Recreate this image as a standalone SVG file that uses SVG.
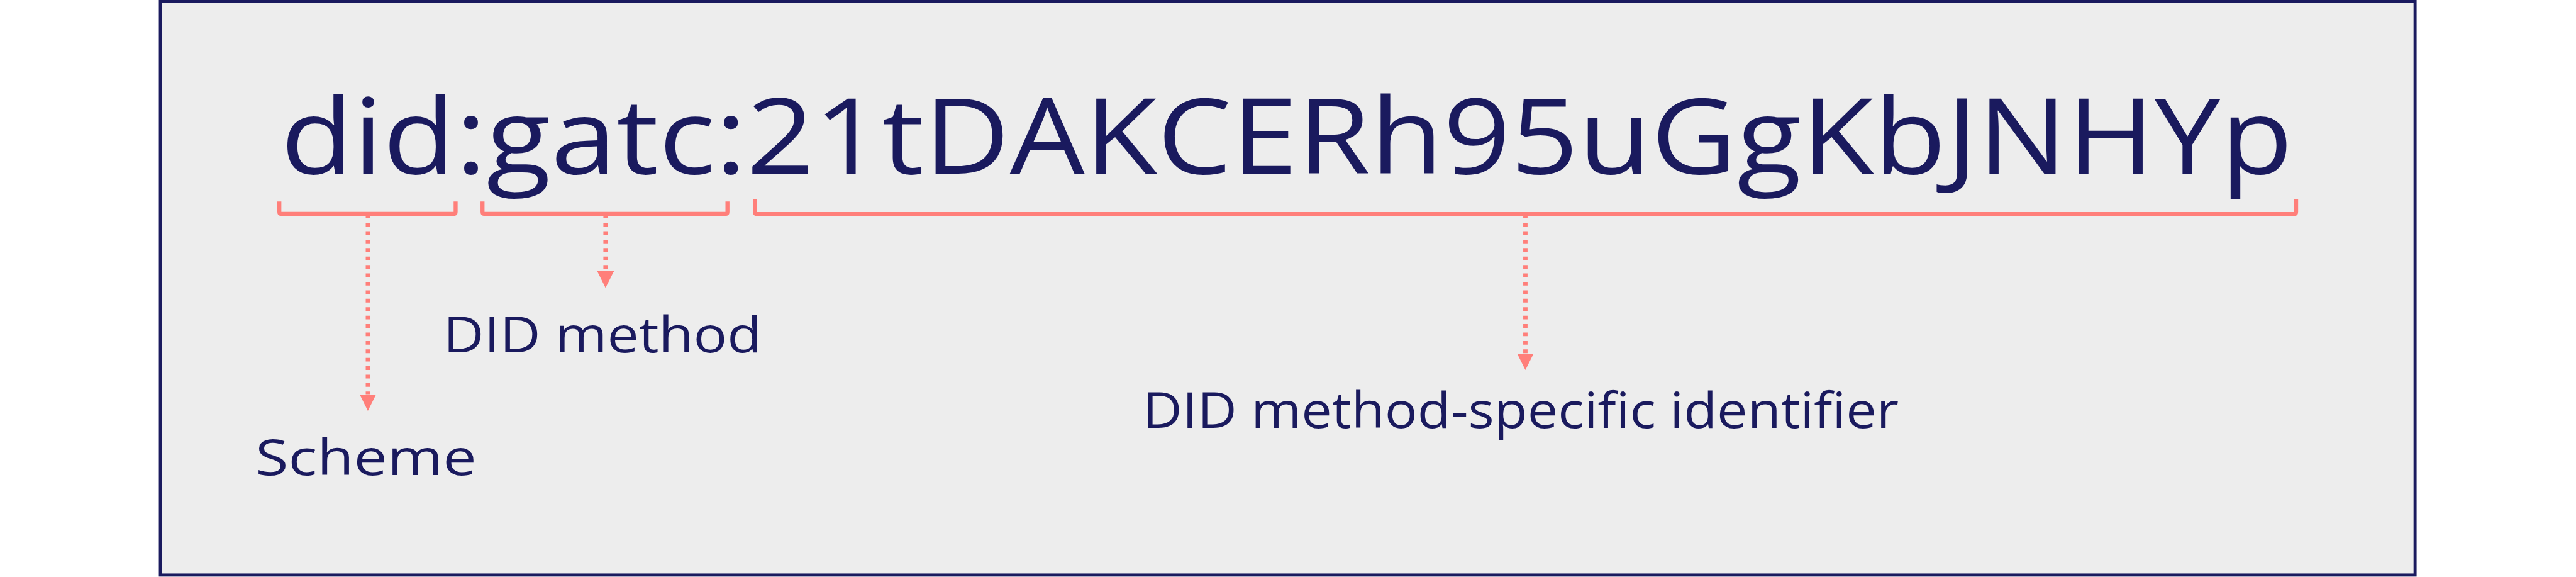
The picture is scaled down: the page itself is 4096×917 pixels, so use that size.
<svg xmlns="http://www.w3.org/2000/svg" width="4096" height="917" viewBox="0 0 4096 917">
  <style>
    .frame { fill: #EDEDED; stroke: #1A1A5E; stroke-width: 5; }
    .main { font-family: "Open Sans", "Noto Sans", sans-serif; font-size: 170px; fill: #1A1A5E; }
    .label { font-family: "Open Sans", "Noto Sans", sans-serif; font-size: 80px; fill: #1A1A5E; }
    .bracket { fill: none; stroke: #FF7F7A; stroke-width: 6.5; stroke-linejoin: round; }
    .conn { fill: none; stroke: #FF7F7A; stroke-width: 7; stroke-dasharray: 6 7.7; }
  </style>
  <defs>
    <marker id="arrow" viewBox="0 -13.5 27 27" refX="0" refY="0" markerWidth="27" markerHeight="27" markerUnits="userSpaceOnUse" orient="auto">
      <path d="M0,-13.5 L27,0 L0,13.5 Z" fill="#FF7F7A"/>
    </marker>
  </defs>
  <g transform="scale(0.979)">
    <rect id="frame" class="frame" x="260.5" y="2.5" width="3662" height="931"/>
    <g id="did">
      <text class="main" x="456" y="281.7" textLength="3268" lengthAdjust="spacingAndGlyphs">did:gatc:21tDAKCERh95uGgKbJNHYp</text>
    </g>
    <g id="brackets">
      <path id="bracket-scheme" class="bracket" d="M453.7,327 V344 Q453.7,347.3 457,347.3 H736.7 Q740,347.3 740,344 V327"/>
      <path id="bracket-method" class="bracket" d="M783.7,327 V344 Q783.7,347.3 787,347.3 H1178.2 Q1181.5,347.3 1181.5,344 V327"/>
      <path id="bracket-msi" class="bracket" d="M1226,323 V344 Q1226,347.5 1229.5,347.5 H3725.8 Q3729.3,347.5 3729.3,344 V323"/>
    </g>
    <g id="connectors">
      <line class="conn" x1="597.5" y1="348" x2="597.5" y2="640" marker-end="url(#arrow)"/>
      <line class="conn" x1="983.5" y1="348" x2="983.5" y2="440.3" marker-end="url(#arrow)"/>
      <line class="conn" x1="2477.5" y1="348" x2="2477.5" y2="573.7" marker-end="url(#arrow)"/>
    </g>
    <g id="scheme">
      <text class="label" x="415" y="771.7" textLength="359" lengthAdjust="spacingAndGlyphs">Scheme</text>
    </g>
    <g id="method">
      <text class="label" x="720" y="571.7" textLength="517" lengthAdjust="spacingAndGlyphs">DID method</text>
    </g>
    <g id="msi">
      <text class="label" x="1856" y="694.3" textLength="1228" lengthAdjust="spacingAndGlyphs">DID method-specific identifier</text>
    </g>
  </g>
</svg>
